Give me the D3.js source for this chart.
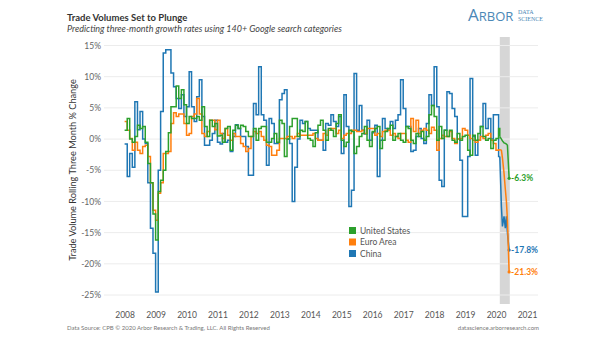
<!DOCTYPE html>
<html>
<head>
<meta charset="utf-8">
<script src="https://cdn.jsdelivr.net/npm/d3@7"></script>
<style>
  body { margin: 0; background: #fff; }
  svg { display: block; font-family: Lato, "Open Sans", sans-serif; }
</style>
</head>
<body>
<svg id="chart" width="605" height="341"></svg>
<script>
// monthly values, Jan 2008 .. Feb 2020 (% change, rolling three month)
var unitedStates = [
  1.4, 3.3, 0, -0.5, 0.4, 2.2, 1.7, 2, -0.5, -3.9,
  -7, -12, -16.2, -8.4, -6.6, -5, -2, 1, 5.2, 5.2,
  8.5, 6.5, 7.9, 5.5, 2.5, 3.6, 3.3, 3.3, 3.6, 3,
  5.2, 2, 0.4, 3, 2, 2.5, 0.5, 0.6, -0.5, 1.7,
  2, -1.8, 1.4, 2.2, 1.7, 2.2, 2, 1.2, 0.4, 0.4,
  1.7, -0.2, 1.7, 2, 2, -0.5, -0.5, 0.1, 0.9, -0.5,
  3, 2.5, -2.8, 0, 2, 3.3, 3.3, 0.4, 1.4, 1.2,
  2.8, 0.1, -0.2, -1.2, 1, 2.2, 3, 1.4, -0.2, 1.7,
  1.4, 0.4, 2.5, 3.9, -0.2, -1.2, -0.5, 1.4, 1.2, -2.3,
  -1.2, 0.4, 0.9, 2, -0.2, -1.2, 1.2, 1.7, 2, -1.5,
  -0.2, 1.2, 1.7, 2.2, -0.2, 0.4, 0.9, -0.2, -0.5, 2,
  1.7, -0.2, -0.7, 0.9, 0.4, 1.2, -0.2, 0.4, 3.9, 5.4,
  3.6, -0.2, 2, 0.1, 1.4, 0.4, 1.4, -0.2, -0.5, 0.9,
  -0.2, 0.4, 0.6, -1.8, -2.6, 0.6, -0.2, 0.9, 2, 0.4,
  -0.2, 0.1, -1.5, -0.2, 0.1, 1.7
];
var euroArea = [
  2.8, 1.4, 0.1, -1.8, -0.5, -1.8, -2.3, -1.2, -1, -2.8,
  -7, -11.4, -13, -8.7, -7, -2.3, -2.3, -2, 2.5, 4.2,
  3.6, 4, 4, 2.5, 0.6, 0.9, 3.6, 4, 6.5, 4,
  0.9, 0.4, 1.2, 3, 3, 1.5, 3, 0.9, 0.1, 1.7,
  0.6, -0.2, 0.9, 0.4, 0.4, -0.7, -1.2, -2, -1.5, 0.4,
  1.2, 0.9, 1.2, 0.4, -0.2, -1, -1.2, -2.6, -2.6, -1.8,
  0.1, 0.1, 0.1, 0.4, 0.4, 0.1, 0.4, 0.9, 0.6, 0.6,
  0.6, 0.6, 0.6, 0.9, 0.1, -0.2, -0.2, 0.9, 0.6, 1.4,
  1.7, 1.7, 0.9, 1.4, 0.1, 0.6, 0.9, 0.9, 1.4, 1.4,
  1.2, 1.2, 1.4, 0.9, 1.7, 1.7, 1.7, 0.6, 0.9, 0.4,
  1.2, 1.4, 1.4, 0.6, 0.9, 0.4, 0.1, 0.9, 0.9, -0.2,
  -0.5, 3.3, 1.2, 3, 0.9, 1.4, 1.7, 1.4, 0.9, 1.9,
  1.4, -1.8, 0.1, 0.6, 0.4, 0.4, 1.2, 0.1, -0.7, 0,
  0.1, 1.7, 1.4, 0.6, 0.1, -0.2, -0.5, -0.2, 0.4, 0.1,
  0.6, 0.9, -0.2, -0.7, -1.8, -1.7
];
var china = [
  -0.8, -6, -2.3, -4.5, 6, 1.5, 4.4, 0, -0.7, -7,
  -14.3, -18.3, -24.5, -5, 4.4, 13.8, 14.3, 14.3, 10.6, 8.4,
  6.5, 4.9, 7.1, 3.6, 5.2, 10.8, 5.2, 2.8, 6.8, 9.5,
  3.6, -1, -1, -0.2, 0.9, 3, -0.5, -0.8, 0.9, -0.5,
  -0.2, -2, 0.4, 2.3, 1.7, 0.4, 0.4, -1.2, -5.8, -5.8,
  5.7, 3.9, 11.6, 3.9, 3, -4.2, 3.3, 2.5, -0.7, -0.7,
  6.3, 7.3, 7.9, 0, -0.7, -10, -4.5, 0, 3, 2.5,
  2.8, 1.7, 1.4, 1.4, 1.4, -0.2, -0.2, -1.8, 2.5, 2.2,
  3.9, 2.8, 2, 3.6, -2.3, 7.1, 2, -10.8, -8.2, 10.5,
  1.4, 5.4, 1.4, 0.8, 3, -0.2, 1, 2.2, -6, -0.2,
  3.3, 1.7, 1.4, 2.8, 1.7, 3, 3.9, 9.5, 4.9, 2,
  2, -2, -1.8, 0.4, 1.7, 0.1, -0.7, 2.5, 7.1, 5.4,
  11.6, 5.2, -6.6, -7.6, 1.4, 7.6, 7.3, 4.9, 3.6, 0,
  -3.4, -12.4, -12.4, -2.8, 9.7, 0.4, -2.6, -0.2, 2, 5.7,
  1.7, 3.3, 0, 3.9, 3.9, -2.8
];

// weekly nowcasts inside the shaded window
var nowcastDates = ["2020-02-15", "2020-03-05", "2020-03-17", "2020-04-05",
                    "2020-04-20", "2020-05-03", "2020-05-15", "2020-06-04"];
var nowUnitedStates = [0.4, 0, -0.3, -0.6, -0.7, -0.8, -1, -6.3];
var nowEuroArea = [-1.7, -1.8, -3, -5.5, -8, -10, -13, -21.3];
var nowChina = [-2.8, -10.8, -14, -12.4, -14.3, -12.4, -15, -17.8];

var shadeStart = "2020-02-15", shadeEnd = "2020-06-12";
var yTicks = [15, 10, 5, 0, -5, -10, -15, -20, -25];
var seriesNames = ["United States", "Euro Area", "China"];
var seriesColors = ["#2ca02c", "#ff7f0e", "#1f77b4"];

var parse = d3.timeParse("%Y-%m-%d");
var months = d3.timeMonth.range(new Date(2008, 0, 1), new Date(2020, 2, 1));

var series = [
  {name: "China", color: seriesColors[2], hist: china, now: nowChina},
  {name: "Euro Area", color: seriesColors[1], hist: euroArea, now: nowEuroArea},
  {name: "United States", color: seriesColors[0], hist: unitedStates, now: nowUnitedStates}
];

var svg = d3.select("#chart");

var x = d3.scaleTime()
  .domain([new Date(2008, 0, 1), new Date(2021, 0, 1)])
  .range([124.6, 527]);
var y = d3.scaleLinear().domain([-25, 15]).range([295, 45.5]);

// shaded window
svg.append("rect")
  .attr("x", x(parse(shadeStart)))
  .attr("width", x(parse(shadeEnd)) - x(parse(shadeStart)))
  .attr("y", 37).attr("height", 267)
  .attr("fill", "#d6d6d6");

// gridlines
svg.append("g").selectAll("line").data(yTicks).enter().append("line")
  .attr("x1", 104).attr("x2", 538)
  .attr("y1", d => y(d)).attr("y2", d => y(d))
  .attr("stroke", "#ececec").attr("stroke-width", 1);

// y axis
var yAxis = svg.append("g").attr("transform", "translate(104,0)")
  .call(d3.axisLeft(y).tickValues(yTicks).tickSize(0).tickPadding(3).tickFormat(d => d + "%"));
yAxis.select(".domain").remove();
yAxis.selectAll("text").attr("font-size", 8.5).attr("fill", "#666").attr("font-family", "Lato, sans-serif");

// x axis
var xAxis = svg.append("g").attr("transform", "translate(0,309)")
  .call(d3.axisBottom(x).ticks(d3.timeYear.every(1)).tickSize(0).tickPadding(3).tickFormat(d3.timeFormat("%Y")));
xAxis.select(".domain").remove();
xAxis.selectAll("text").attr("font-size", 8.5).attr("fill", "#555").attr("font-family", "Lato, sans-serif");

// y title
svg.append("text")
  .attr("transform", "translate(76,170) rotate(-90)")
  .attr("text-anchor", "middle")
  .attr("font-size", 9.2).attr("fill", "#333")
  .text("Trade Volume Rolling Three Month % Change");

var stepLine = d3.line().curve(d3.curveStepAfter).x(d => x(d.date)).y(d => y(d.value));
var straightLine = d3.line().x(d => x(d.date)).y(d => y(d.value));

series.forEach(function (s) {
  var hist = s.hist.map((v, i) => ({date: months[i], value: v}));
  var now = s.now.map((v, i) => ({date: parse(nowcastDates[i]), value: v}));

  svg.append("path")
    .datum(hist.concat([now[0]]))
    .attr("d", stepLine)
    .attr("fill", "none").attr("stroke", s.color).attr("stroke-width", 1.5);

  svg.append("path")
    .datum(now)
    .attr("d", straightLine)
    .attr("fill", "none").attr("stroke", s.color).attr("stroke-width", 1.5);

  var last = now[now.length - 1];
  svg.append("circle")
    .attr("cx", x(last.date)).attr("cy", y(last.value)).attr("r", 1.6)
    .attr("fill", s.color);
  svg.append("text")
    .attr("x", x(last.date) + 2).attr("y", y(last.value) + 3)
    .attr("font-size", 8.5).attr("font-weight", "bold").attr("fill", s.color)
    .text(last.value.toFixed(1) + "%");
});

// legend
var legend = svg.append("g").attr("transform", "translate(349,227)");
seriesNames.forEach(function (n, i) {
  legend.append("rect").attr("x", 0).attr("y", i * 11.5).attr("width", 7).attr("height", 7)
    .attr("fill", seriesColors[i]);
  legend.append("text").attr("x", 11).attr("y", i * 11.5 + 6.8)
    .attr("font-size", 8.5).attr("fill", "#555").text(n);
});

// titles
svg.append("text").attr("x", 67).attr("y", 21)
  .attr("font-size", 9.5).attr("font-weight", "bold").attr("fill", "#333")
  .text("Trade Volumes Set to Plunge");
svg.append("text").attr("x", 67).attr("y", 32)
  .attr("font-size", 9).attr("font-style", "italic").attr("fill", "#444")
  .text("Predicting three-month growth rates using 140+ Google search categories");

// logo
var logo = svg.append("text").attr("x", 468).attr("y", 21)
  .attr("fill", "#4b88b6").attr("font-family", "'Open Sans', sans-serif");
logo.append("tspan").attr("font-size", 17).text("A");
logo.append("tspan").attr("font-size", 13).text("RBOR");
svg.append("text").attr("x", 518).attr("y", 14)
  .attr("font-size", 6).attr("fill", "#4b88b6").attr("font-family", "'Liberation Serif', serif")
  .text("DATA");
svg.append("text").attr("x", 518).attr("y", 20.5)
  .attr("font-size", 6).attr("fill", "#4b88b6").attr("font-family", "'Liberation Serif', serif")
  .text("SCIENCE");

// footer
svg.append("text").attr("x", 67).attr("y", 330)
  .attr("font-size", 6).attr("fill", "#777")
  .text("Data Source: CPB  \u00a9 2020 Arbor Research & Trading, LLC. All Rights Reserved");
svg.append("text").attr("x", 539).attr("y", 330).attr("text-anchor", "end")
  .attr("font-size", 6).attr("fill", "#777")
  .text("datascience.arborresearch.com");
</script>
</body>
</html>
